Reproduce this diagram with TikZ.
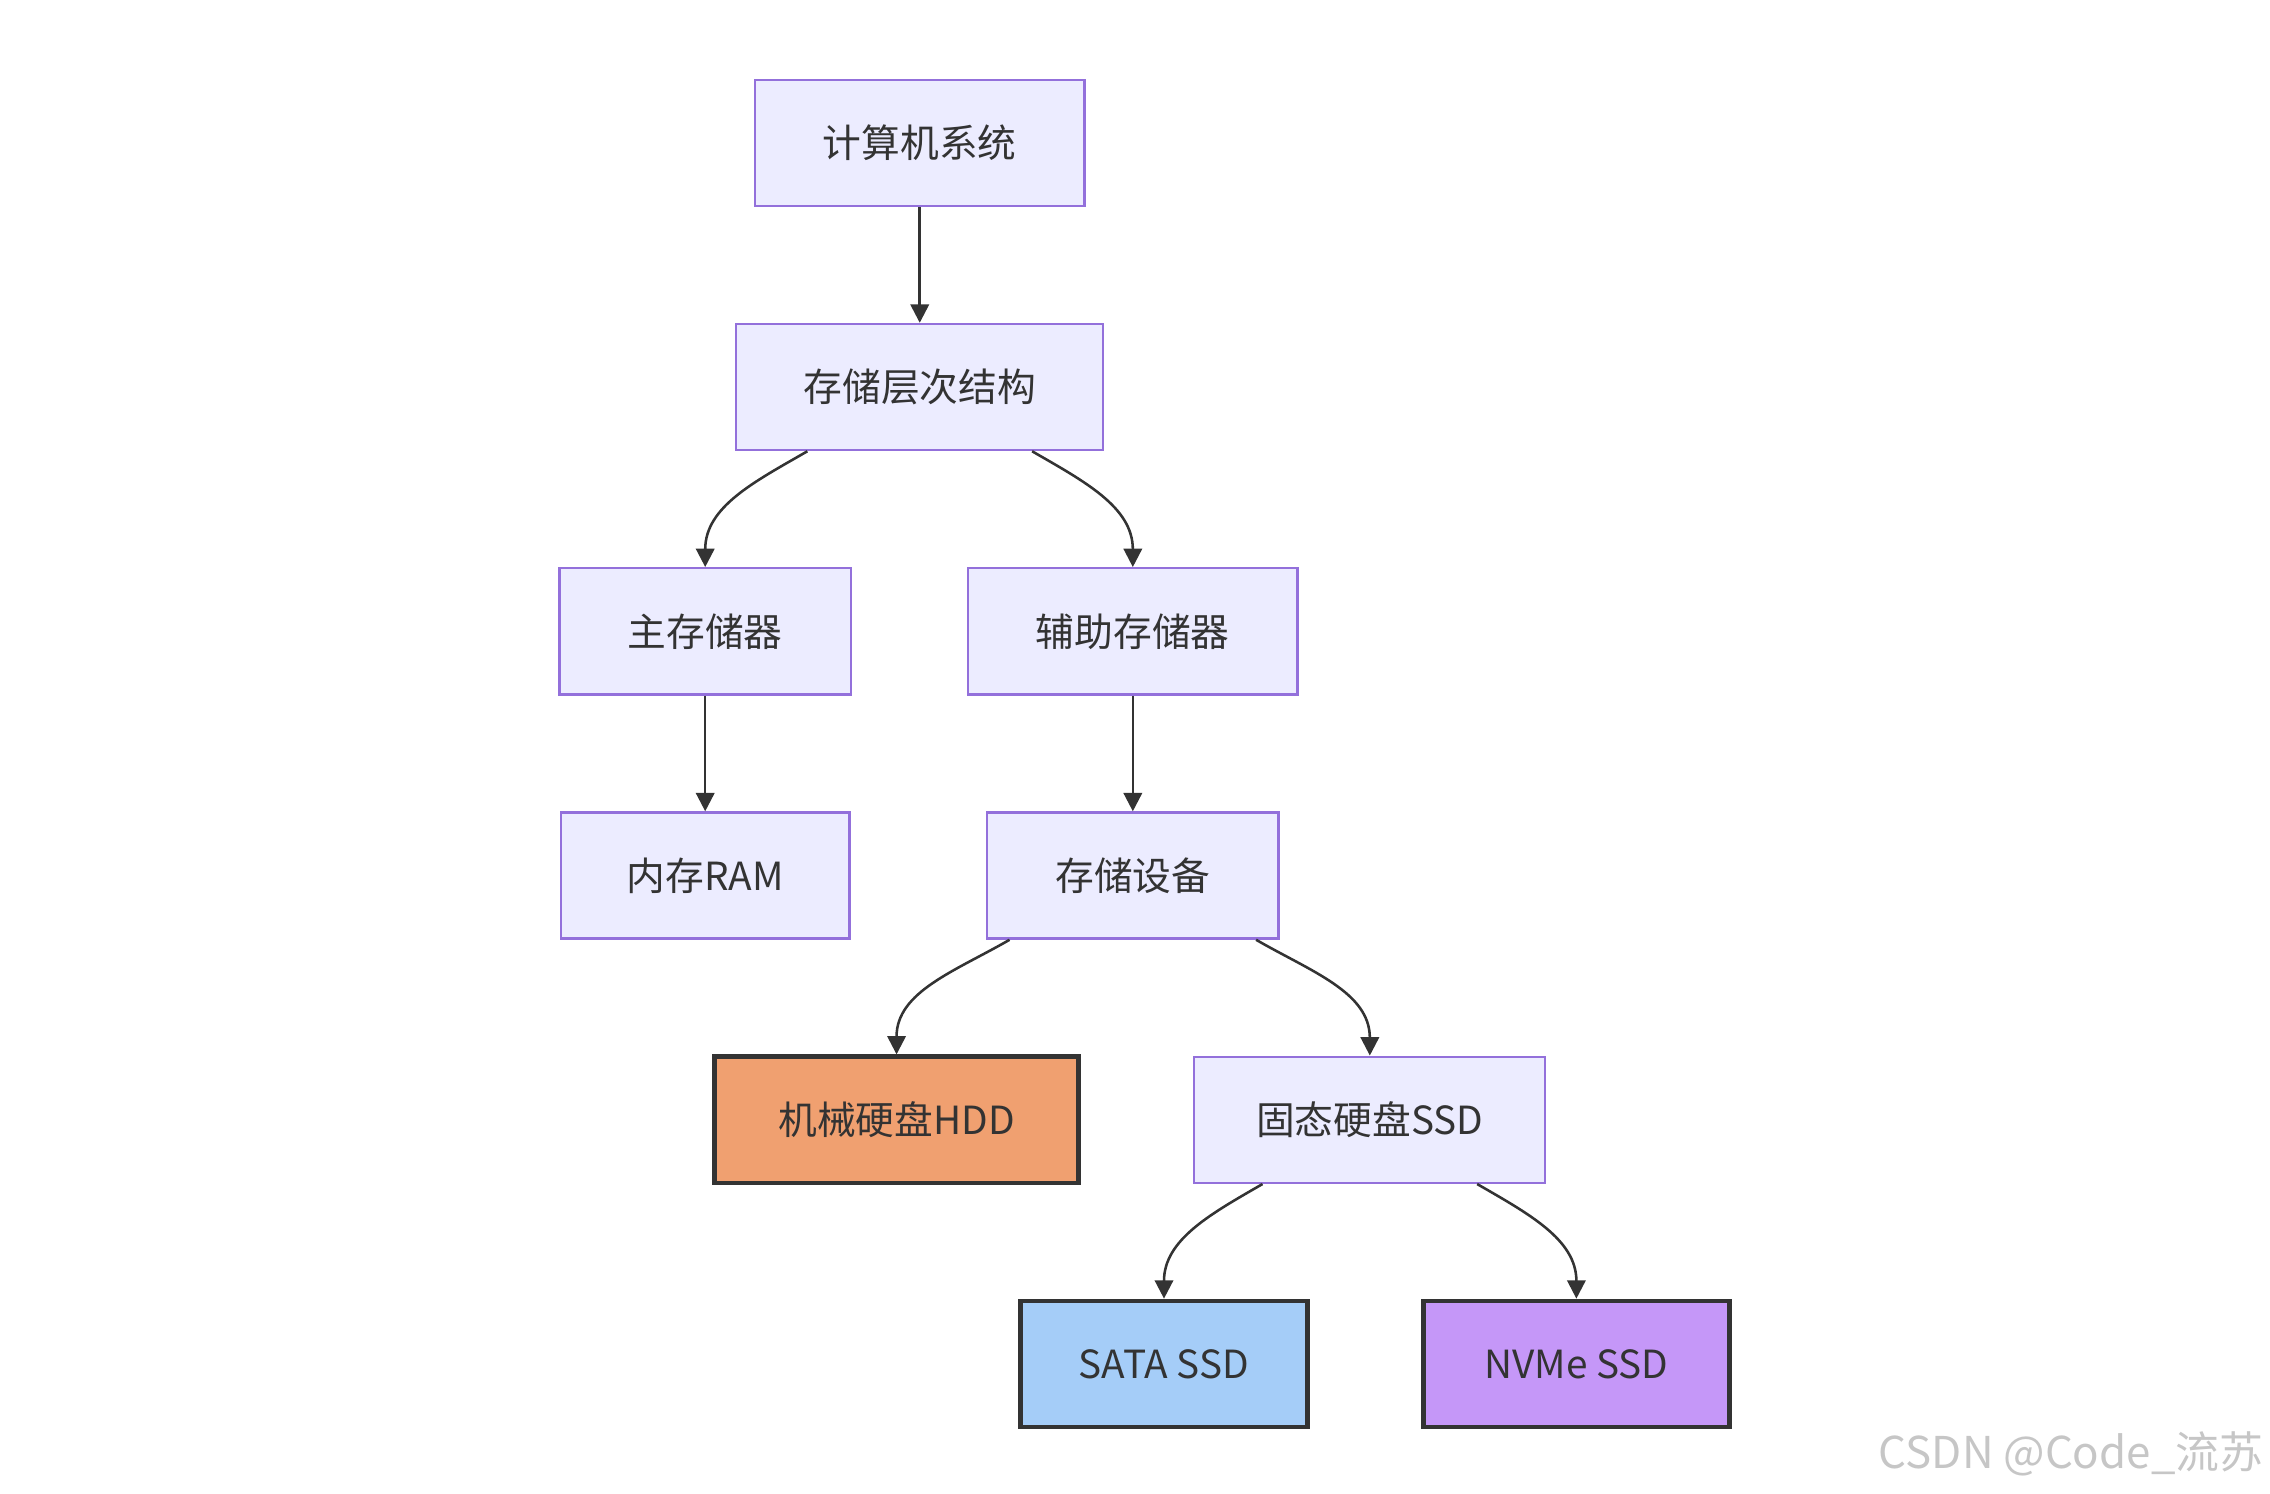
\documentclass[tikz,border=0pt]{standalone}
\usepackage{fontspec}
\setmainfont{Noto Sans CJK SC}
\usetikzlibrary{arrows.meta}
\definecolor{boxfill}{HTML}{ECECFF}
\definecolor{boxline}{HTML}{9370DB}
\definecolor{edge}{HTML}{333333}
\definecolor{hddfill}{HTML}{F0A070}
\definecolor{satafill}{HTML}{A5CDF8}
\definecolor{nvmefill}{HTML}{C597F8}
\begin{document}
\begin{tikzpicture}[x=0.01cm, y=-0.01cm,
    box/.style={draw=boxline, fill=boxfill, line width=0.45pt, minimum height=0.87cm,
                text=edge, font=\fontsize{7.6}{9}\selectfont, inner sep=0pt},
    leaf/.style={box, draw=edge, line width=0.9pt},
    arr/.style={-{Triangle[length=3.6pt,width=3.6pt]}, draw=edge, line width=0.5pt}]
  \useasboundingbox (0,0) rectangle (1566,1030);

  % Nodos
  \node[box, minimum width=2.27cm] (sys) at (634.5,98.5) {计算机系统};
  \node[box, minimum width=2.53cm] (hier) at (634.5,267) {存储层次结构};
  \node[box, minimum width=2.01cm] (main) at (486.5,435.5) {主存储器};
  \node[box, minimum width=2.27cm] (aux) at (781.5,435.5) {辅助存储器};
  \node[box, minimum width=1.99cm] (ram) at (486.5,604) {内存RAM};
  \node[box, minimum width=2.01cm] (dev) at (781.5,604) {存储设备};
  \node[leaf, fill=hddfill, minimum width=2.51cm] (hdd) at (618.5,772.5) {机械硬盘HDD};
  \node[box, minimum width=2.42cm] (ssd) at (945,772.5) {固态硬盘SSD};
  \node[leaf, fill=satafill, minimum width=1.98cm] (sata) at (803,941) {SATA SSD};
  \node[leaf, fill=nvmefill, minimum width=2.11cm] (nvme) at (1087.5,941) {NVMe SSD};
  \node[text=gray!45, font=\fontsize{8.6}{10}\selectfont, inner sep=0pt, anchor=east] (mark) at (1562,1003) {CSDN @Code\_流苏};

  % Aristas
  \draw[arr] (sys) -- (hier);
  \draw[arr] ([xshift=-0.775cm]hier.south) to[out=-150, in=90] (main.north);
  \draw[arr] ([xshift=0.775cm]hier.south) to[out=-30, in=90] (aux.north);
  \draw[arr] (main) -- (ram);
  \draw[arr] (aux) -- (dev);
  \draw[arr] ([xshift=-0.85cm]dev.south) to[out=-150, in=90] (hdd.north);
  \draw[arr] ([xshift=0.85cm]dev.south) to[out=-30, in=90] (ssd.north);
  \draw[arr] ([xshift=-0.74cm]ssd.south) to[out=-150, in=90] (sata.north);
  \draw[arr] ([xshift=0.74cm]ssd.south) to[out=-30, in=90] (nvme.north);
\end{tikzpicture}
\end{document}
